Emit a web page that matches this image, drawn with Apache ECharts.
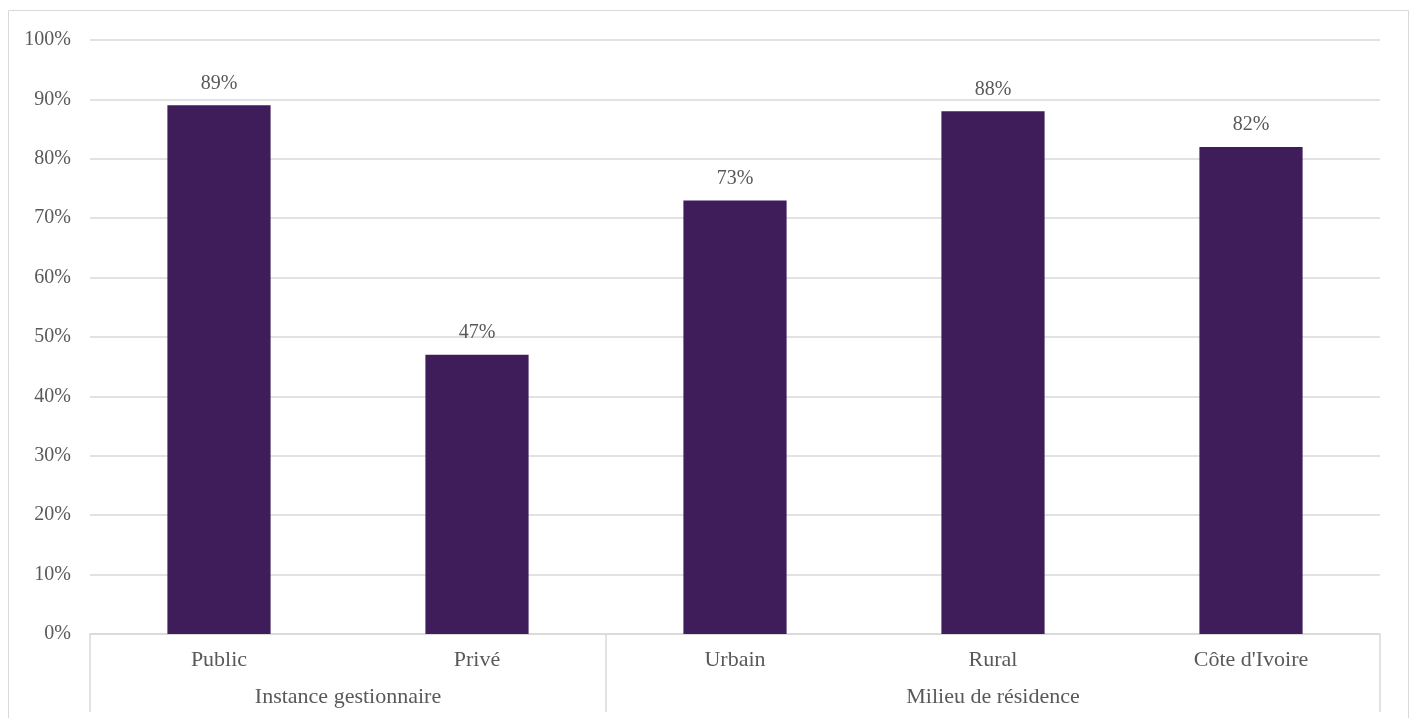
<!DOCTYPE html>
<html>
<head>
<meta charset="utf-8">
<script src="https://cdn.jsdelivr.net/npm/echarts@6/dist/echarts.min.js"></script>
<style>
  html, body { margin: 0; padding: 0; background: #ffffff; }
  #chart { width: 1416px; height: 718px; }
</style>
</head>
<body>
<div id="chart"></div>
<script>
// Categories, grouped under two headings
const categories = ['Public', 'Privé', 'Urbain', 'Rural', "Côte d'Ivoire"];
const values = [89, 47, 73, 88, 82];
const groups = ['Instance gestionnaire', 'Milieu de résidence'];
const groupSizes = [2, 3];
const yTicks = [0, 10, 20, 30, 40, 50, 60, 70, 80, 90, 100];

// Group boundaries and centres on a 0..n scale
const bounds = [0];
groupSizes.forEach(s => bounds.push(bounds[bounds.length - 1] + s));
const centres = groupSizes.map((s, i) => bounds[i] + s / 2);

const textColor = '#595959';
const lineColor = '#d9d9d9';
const font = '"Liberation Serif", "DejaVu Serif", serif';

const chart = echarts.init(document.getElementById('chart'), null, { renderer: 'canvas' });

chart.setOption({
  animation: false,
  textStyle: { fontFamily: font },
  graphic: [{
    type: 'rect',
    shape: { x: 8.5, y: 10.5, width: 1400, height: 740 },
    style: { fill: 'none', stroke: lineColor, lineWidth: 1 },
    silent: true,
    z: -1
  }],
  grid: { left: 90, right: 36, top: 40, bottom: 84 },
  xAxis: [{
    type: 'category',
    data: categories,
    axisLine: { show: true, lineStyle: { color: lineColor, width: 1.5 } },
    axisTick: { show: false },
    axisLabel: { color: textColor, fontSize: 22, fontFamily: font, margin: 15 }
  }, {
    type: 'value',
    position: 'bottom',
    min: 0,
    max: categories.length,
    axisLine: { show: false },
    splitLine: { show: false },
    axisTick: {
      show: true,
      customValues: bounds,
      length: 78,
      lineStyle: { color: lineColor, width: 1.5 }
    },
    axisLabel: {
      show: true,
      customValues: centres,
      color: textColor,
      fontSize: 22,
      fontFamily: font,
      margin: 52,
      formatter: (v) => {
        const i = centres.findIndex(c => Math.abs(c - v) < 1e-6);
        return i >= 0 ? groups[i] : '';
      }
    }
  }],
  yAxis: {
    type: 'value',
    min: yTicks[0],
    max: yTicks[yTicks.length - 1],
    interval: yTicks[1] - yTicks[0],
    axisLine: { show: false },
    axisTick: { show: false },
    splitLine: { lineStyle: { color: lineColor, width: 1.5 } },
    axisLabel: { color: textColor, fontSize: 20, fontFamily: font, margin: 19, formatter: '{value}%' }
  },
  series: [{
    type: 'bar',
    data: values,
    barWidth: '40%',
    itemStyle: { color: '#3e1d5a' },
    label: {
      show: true,
      position: 'top',
      distance: 12,
      color: textColor,
      fontSize: 20,
      fontFamily: font,
      formatter: (p) => p.value + '%'
    }
  }]
});
</script>
</body>
</html>
